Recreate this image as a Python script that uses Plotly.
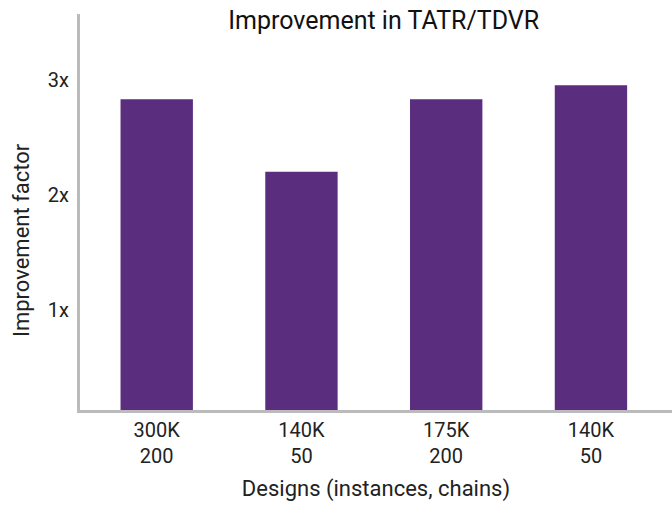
import plotly.graph_objects as go

designs = ["300K<br>200", "140K<br>50", "175K<br>200", "140K<br>50"]
improvement = [2.83, 2.2, 2.83, 2.95]
y_tick_vals = [1, 2, 3]
y_tick_text = ["1x", "2x", "3x"]

x = list(range(len(designs)))

fig = go.Figure(
    go.Bar(
        x=x,
        y=improvement,
        marker=dict(color="#5A2D7E", line=dict(width=0)),
        width=0.5,
    )
)

fig.update_layout(
    width=672,
    height=506,
    margin=dict(l=80, r=0, t=14, b=96),
    paper_bgcolor="white",
    plot_bgcolor="white",
    font=dict(family="Roboto", size=20, color="#222222"),
    title=dict(
        text="Improvement in TATR/TDVR",
        x=0.571,
        xanchor="center",
        y=0.96,
        yanchor="middle",
        font=dict(family="Roboto", size=25, color="#111111"),
    ),
    showlegend=False,
    annotations=[
        dict(
            text="Improvement factor",
            xref="paper", yref="paper",
            x=-0.0997, y=0.429,
            xanchor="center", yanchor="middle",
            textangle=-90,
            showarrow=False,
            font=dict(family="Roboto", size=22, color="#222222"),
        )
    ],
)

fig.update_xaxes(
    tickvals=x,
    ticktext=designs,
    range=[-0.53, 3.56],
    showline=True,
    linecolor="#BBBBBB",
    linewidth=3,
    ticks="",
    showgrid=False,
    zeroline=False,
    title=dict(text="Designs (instances, chains)", standoff=14,
               font=dict(family="Roboto", size=22, color="#222222")),
)

fig.update_yaxes(
    range=[0.13, 3.57],
    tickvals=y_tick_vals,
    ticktext=y_tick_text,
    showline=True,
    linecolor="#BBBBBB",
    linewidth=3,
    ticks="",
    showgrid=False,
    zeroline=False,
    ticklabelstandoff=4,
)

fig.write_html("out.html")
